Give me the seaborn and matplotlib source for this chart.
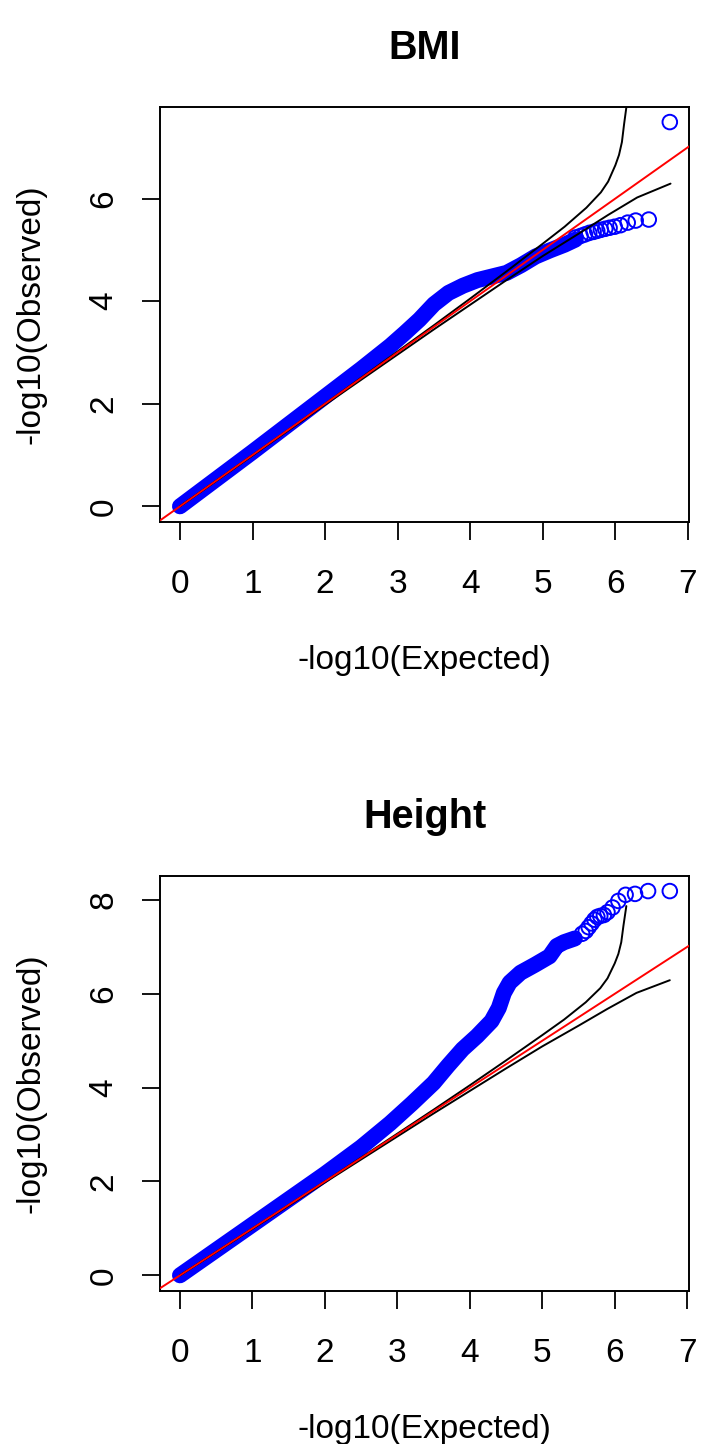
import matplotlib
matplotlib.use("Agg")
import matplotlib.pyplot as plt
import pandas as pd
import seaborn as sns

# ---------------------------------------------------------------- data --
# Dense body of each QQ curve: expected vs observed -log10(p)
bmi_body_expected = [0.0, 0.5, 1.0, 1.5, 2.0, 2.5, 2.9, 3.1, 3.3, 3.5, 3.7,
                     3.9, 4.1, 4.3, 4.5, 4.7, 4.9, 5.1, 5.3, 5.45]
bmi_body_observed = [0.0, 0.53, 1.06, 1.6, 2.14, 2.68, 3.13, 3.38, 3.64, 3.94,
                     4.16, 4.30, 4.41, 4.48, 4.55, 4.70, 4.87, 4.99, 5.10, 5.20]
# Top-ranked variants, drawn as individual circles
bmi_tail_expected = [5.45, 5.52, 5.58, 5.64, 5.70, 5.75, 5.80, 5.86, 5.92,
                     5.99, 6.07, 6.17, 6.28, 6.46, 6.75]
bmi_tail_observed = [5.24, 5.27, 5.30, 5.33, 5.35, 5.37, 5.39, 5.41, 5.43,
                     5.45, 5.48, 5.53, 5.57, 5.59, 7.49]

height_body_expected = [0.0, 0.5, 1.0, 1.5, 2.0, 2.5, 2.9, 3.2, 3.5, 3.7, 3.9,
                        4.1, 4.3, 4.4, 4.47, 4.55, 4.7, 4.9, 5.1, 5.2, 5.3, 5.45]
height_body_observed = [0.0, 0.54, 1.08, 1.62, 2.16, 2.73, 3.24, 3.66, 4.10,
                        4.47, 4.82, 5.10, 5.42, 5.70, 6.02, 6.24, 6.45, 6.62,
                        6.80, 7.02, 7.10, 7.18]
height_tail_expected = [5.55, 5.60, 5.64, 5.68, 5.72, 5.76, 5.80, 5.85, 5.90,
                        5.97, 6.05, 6.15, 6.28, 6.46, 6.76]
height_tail_observed = [7.28, 7.34, 7.42, 7.50, 7.58, 7.64, 7.66, 7.68, 7.74,
                        7.84, 7.98, 8.11, 8.13, 8.19, 8.19]

# 95% confidence band under the null (same number of tests in both panels)
ci_upper_expected = [0.0, 1.0, 2.0, 3.0, 3.5, 4.0, 4.5, 5.0, 5.3, 5.6, 5.8,
                     5.9, 6.0, 6.05, 6.09, 6.12, 6.16]
ci_upper_observed = [0.0, 1.0, 2.0, 3.02, 3.53, 4.05, 4.58, 5.12, 5.45, 5.82,
                     6.12, 6.33, 6.65, 6.85, 7.1, 7.45, 7.87]
ci_lower_expected = [0.0, 1.0, 2.0, 3.0, 3.5, 4.0, 4.5, 5.0, 5.5, 5.9, 6.3, 6.76]
ci_lower_observed = [0.0, 0.99, 1.98, 2.96, 3.45, 3.93, 4.41, 4.88, 5.32, 5.68,
                     6.02, 6.29]

x_ticks = [0, 1, 2, 3, 4, 5, 6, 7]
bmi_y_ticks = [0, 2, 4, 6]
height_y_ticks = [0, 2, 4, 6, 8]

panel_titles = ["BMI", "Height"]
x_label = "-log10(Expected)"
y_label = "-log10(Observed)"

# --------------------------------------------------------------- style --
sns.set_theme(style="white")
plt.rcParams["font.family"] = ["Liberation Sans", "DejaVu Sans"]

W, H = 701, 1444
BLUE = "#0000FF"
TXT = 24            # axis / tick text size (pt)
TITLE = 28.5        # bold panel titles (pt)
BAND_LW = 11.5      # width of the dense run of overlapping circles (pt)
CIRCLE_S = 110      # hollow circle area (pt^2)
LINE_LW = 1.4


def padded(lo, hi, frac=0.04):
    span = hi - lo
    return lo - frac * span, hi + frac * span


def draw_panel(ax, title, body_x, body_y, tail_x, tail_y, y_ticks):
    body = pd.DataFrame({"expected": body_x, "observed": body_y})
    tail = pd.DataFrame({"expected": tail_x, "observed": tail_y})
    upper = pd.DataFrame({"expected": ci_upper_expected,
                          "observed": ci_upper_observed})
    lower = pd.DataFrame({"expected": ci_lower_expected,
                          "observed": ci_lower_observed})

    # dense body: thousands of overlapping circles merge into a solid band
    sns.lineplot(data=body, x="expected", y="observed", ax=ax, color=BLUE,
                 linewidth=BAND_LW, solid_capstyle="round",
                 solid_joinstyle="round", estimator=None, sort=False,
                 zorder=2)
    sns.scatterplot(data=tail, x="expected", y="observed", ax=ax,
                    marker="o", s=CIRCLE_S, color=BLUE, facecolor="none",
                    edgecolor=BLUE, linewidth=1.4, zorder=3)

    # confidence band and identity line
    for band in (upper, lower):
        sns.lineplot(data=band, x="expected", y="observed", ax=ax,
                     color="black", linewidth=LINE_LW, estimator=None,
                     sort=False, zorder=4)
    ax.axline((0, 0), slope=1, color="red", linewidth=LINE_LW, zorder=5)

    all_x = body_x + tail_x
    all_y = body_y + tail_y
    ax.set_xlim(*padded(min(all_x), max(all_x)))
    ax.set_ylim(*padded(min(all_y), max(all_y)))

    ax.set_xticks(x_ticks)
    ax.set_xticklabels([str(t) for t in x_ticks], fontsize=TXT)
    ax.set_yticks(y_ticks)
    ax.set_yticklabels([str(t) for t in y_ticks], fontsize=TXT,
                       rotation=90, va="center")
    ax.tick_params(axis="both", direction="out", length=13, width=1.3,
                   color="black", labelcolor="black")
    ax.tick_params(axis="x", pad=21, bottom=True)
    ax.tick_params(axis="y", pad=16.5, left=True)

    for side in ("left", "right", "top", "bottom"):
        ax.spines[side].set_visible(True)
        ax.spines[side].set_color("black")
        ax.spines[side].set_linewidth(1.4)

    ax.set_xlabel(x_label, fontsize=TXT, color="black")
    ax.set_ylabel(y_label, fontsize=TXT, color="black")
    ax.xaxis.set_label_coords(0.5, -0.298)
    ax.yaxis.set_label_coords(-0.215, 0.5)

    ax.text(0.5, 1.115, title, transform=ax.transAxes, ha="center",
            va="baseline", fontsize=TITLE, fontweight="bold", color="black")


fig = plt.figure(figsize=(W / 100, H / 100), dpi=100)
fig.patch.set_facecolor("white")

left = 160.4 / W
width = 529.0 / W
height = 415.0 / H
ax_top = fig.add_axes([left, (H - 521.7) / H, width, height])
ax_bot = fig.add_axes([left, (H - 1290.7) / H, width, height])

draw_panel(ax_top, panel_titles[0], bmi_body_expected, bmi_body_observed,
           bmi_tail_expected, bmi_tail_observed, bmi_y_ticks)
draw_panel(ax_bot, panel_titles[1], height_body_expected, height_body_observed,
           height_tail_expected, height_tail_observed, height_y_ticks)

fig.savefig("out.png", dpi=100, facecolor="white")
